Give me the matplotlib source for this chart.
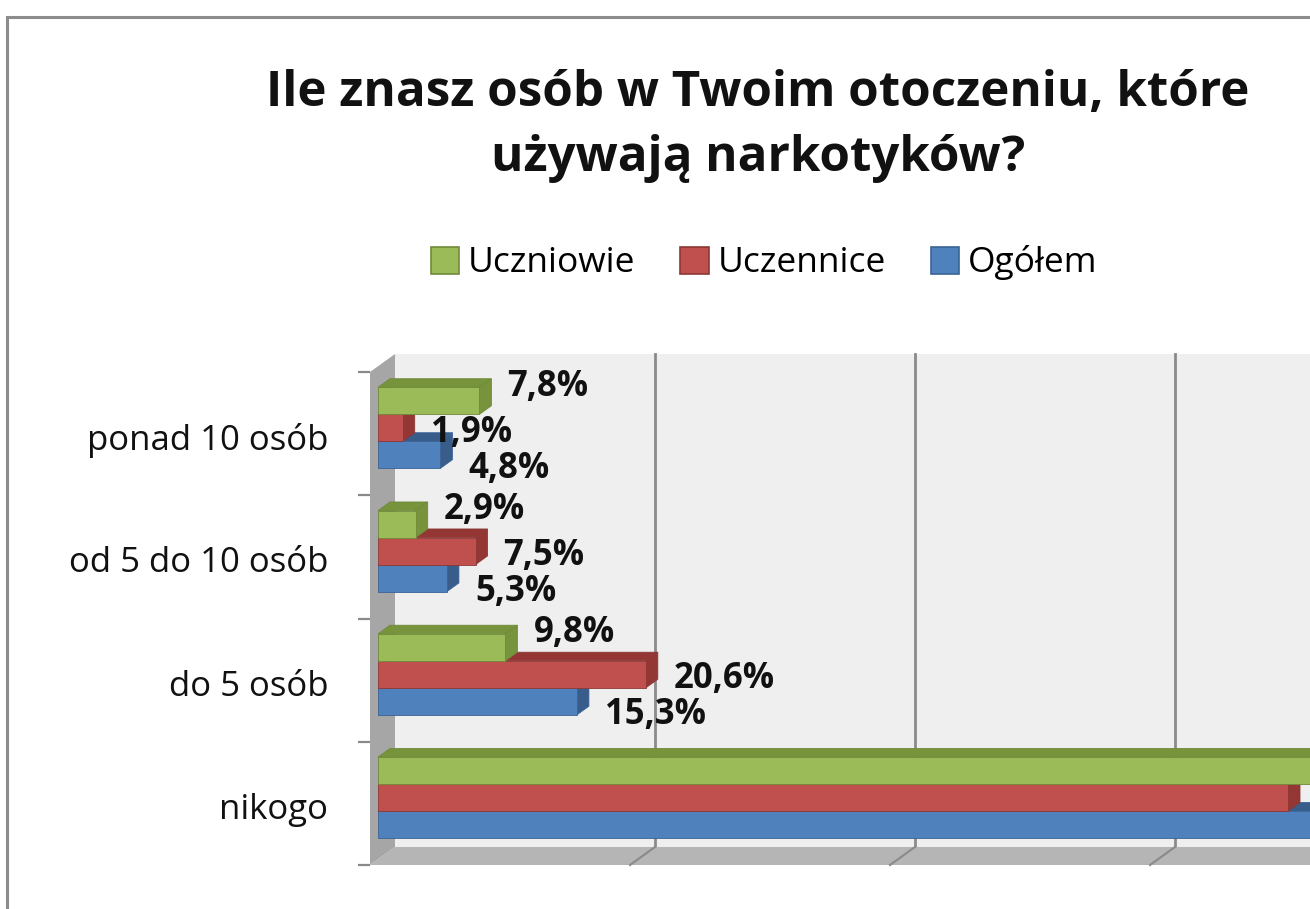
import matplotlib
matplotlib.use("Agg")
import matplotlib.pyplot as plt
from matplotlib.patches import Polygon, Patch, Rectangle
from matplotlib.transforms import IdentityTransform

plt.rcParams['font.family'] = ['Open Sans', 'DejaVu Sans']

# dane
kategorie = ["nikogo", "do 5 osób", "od 5 do 10 osób", "ponad 10 osób"]
serie = ["Uczniowie", "Uczennice", "Ogółem"]
uczniowie = [79.5, 9.8, 2.9, 7.8]
uczennice = [70.0, 20.6, 7.5, 1.9]
ogolem = [74.6, 15.3, 5.3, 4.8]
wartosci = [uczniowie, uczennice, ogolem]

# kolory: przód, wierzch/bok, obrys
kolory = [("#9bbb59", "#77933c", "#6f8a38"),
          ("#c0504d", "#943634", "#8c3836"),
          ("#4f81bd", "#385d8a", "#3a6396")]

W, H, DPI = 1310, 909, 100
fig = plt.figure(figsize=(W / DPI, H / DPI), dpi=DPI)

# ramka wykresu (ucięta z prawej i z dołu)
fig.add_artist(Rectangle((7 / W, -0.05), 1.2, (H - 17) / H + 0.05,
                         transform=fig.transFigure, fill=False,
                         edgecolor="#8c8c8c", lw=2.2))

# płaszczyzna przednia osi
x0, y_top, y_bot = 370, 372, 865
px_na_proc = 13.0
xmax = 85
ax = fig.add_axes([x0 / W, (H - y_bot) / H, xmax * px_na_proc / W, (y_bot - y_top) / H])
ax.set_xlim(0, xmax)
ax.set_ylim(-0.5, 3.5)
for s in ax.spines.values():
    s.set_visible(False)
ax.patch.set_visible(False)
ax.set_xticks([])

# kierunek głębi (piksele)
DX, DY = 1.0, 0.72
GLEB = 25
BAR_D0, BAR_D1 = 8, 20


def P(x, y, d):
    X, Y = ax.transData.transform((x, y))
    return (X + d * DX, Y + d * DY)


def poly(pts, fc, ec="none", lw=0, z=1, **kw):
    ax.add_patch(Polygon(pts, closed=True, facecolor=fc, edgecolor=ec, lw=lw,
                         transform=IdentityTransform(), clip_on=False, zorder=z, **kw))


# ściana tylna
poly([P(0, -0.5, GLEB), P(xmax, -0.5, GLEB), P(xmax, 3.5, GLEB), P(0, 3.5, GLEB)], "#efefef", z=1)
# podłoga
poly([P(0, -0.5, 0), P(xmax, -0.5, 0), P(xmax, -0.5, GLEB), P(0, -0.5, GLEB)], "#b5b5b5", z=1.2)
# ściana lewa
poly([P(0, -0.5, 0), P(0, 3.5, 0), P(0, 3.5, GLEB), P(0, -0.5, GLEB)], "#a6a6a6", z=1.2)

# linie siatki
for gx in [20, 40, 60, 80]:
    a, b = P(gx, -0.5, GLEB), P(gx, 3.5, GLEB)
    ax.add_line(plt.Line2D([a[0], b[0]], [a[1], b[1]], color="#8a8a8a", lw=2.0,
                           transform=IdentityTransform(), clip_on=False, zorder=1.1))
    a, b = P(gx, -0.5, 0), P(gx, -0.5, GLEB)
    ax.add_line(plt.Line2D([a[0], b[0]], [a[1], b[1]], color="#8a8a8a", lw=1.5,
                           transform=IdentityTransform(), clip_on=False, zorder=1.3))

# słupki 3D
h = 27 / 123.25
z = 3
for i in range(len(kategorie)):
    for j in [2, 1, 0]:
        v = wartosci[j][i]
        yc = i + (1 - j) * h
        y1, y2 = yc - h / 2, yc + h / 2
        fc, dark, ec = kolory[j]
        poly([P(0, y2, BAR_D0), P(v, y2, BAR_D0), P(v, y2, BAR_D1), P(0, y2, BAR_D1)], dark, ec, 0.6, z)
        poly([P(v, y1, BAR_D0), P(v, y1, BAR_D1), P(v, y2, BAR_D1), P(v, y2, BAR_D0)], dark, ec, 0.6, z)
        poly([P(0, y1, BAR_D0), P(v, y1, BAR_D0), P(v, y2, BAR_D0), P(0, y2, BAR_D0)], fc, ec, 0.6, z)
        z += 0.01

# etykiety danych (te, które wypadają poza kadr, jak w oryginale, pomijamy)
przes_y = [14, -5, -14]
for i in range(len(kategorie)):
    for j in range(3):
        v = wartosci[j][i]
        yc = i + (1 - j) * h
        X, Y = P(v, yc, BAR_D0)
        if X + 28 > W - 60:
            continue
        ax.text(X + 28, Y + przes_y[j], f"{v:.1f}%".replace(".", ","),
                transform=IdentityTransform(), ha="left", va="center",
                fontsize=25, fontweight="bold", color="#111111", zorder=10, clip_on=False)

# oś kategorii
ax.set_yticks([-0.5, 0.5, 1.5, 2.5, 3.5])
ax.set_yticklabels([])
ax.set_yticks([-0.02, 0.98, 1.98, 2.98], minor=True)
ax.set_yticklabels(kategorie, minor=True, fontsize=25, color="#111111")
ax.tick_params(axis="y", which="major", direction="out", length=8.6, width=1.6, color="#8a8a8a")
ax.tick_params(axis="y", which="minor", length=0, pad=30)

# tytuł
fig.text(758 / W, 1 - 126 / H, "Ile znasz osób w Twoim otoczeniu, które\nużywają narkotyków?",
         ha="center", va="center", fontsize=35.5, fontweight="bold", color="#111111", linespacing=1.45)

# legenda
uchwyty = [Patch(facecolor=kolory[j][0], edgecolor=kolory[j][2], lw=1.2, label=serie[j]) for j in range(3)]
fig.legend(handles=uchwyty, loc="center", bbox_to_anchor=(764 / W, 1 - 263 / H), ncol=3,
           frameon=False, fontsize=25.5, handlelength=0.8, handleheight=0.8,
           handletextpad=0.25, columnspacing=1.27)

fig.savefig("out.png", dpi=DPI)
